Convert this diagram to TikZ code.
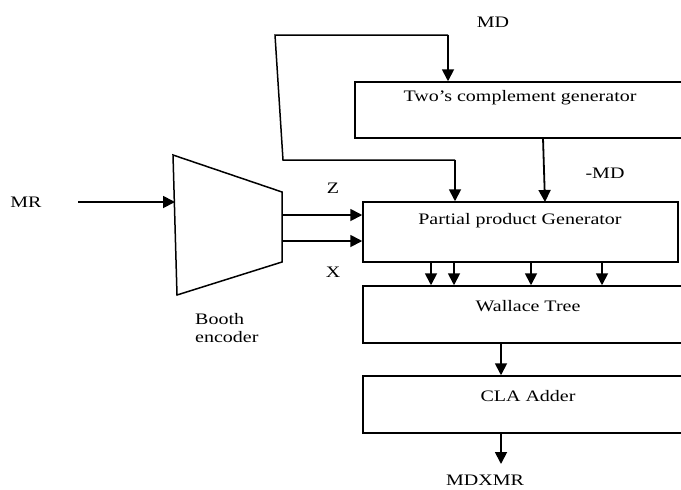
\documentclass[tikz,border=0pt]{standalone}
\usepackage{fontspec}
\setmainfont{Liberation Serif}[FakeStretch=1.25]
\usetikzlibrary{arrows.meta}
\begin{document}
\begin{tikzpicture}[x=1pt,y=-1pt,
  blk/.style={draw, line width=1.5pt, inner sep=0pt},
  lbl/.style={font=\fontsize{16}{18}\selectfont, inner sep=0pt},
  arr/.style={line width=1.8pt, -{Triangle[length=12pt,width=12pt]}},
  ln/.style={line width=1.5pt}]
\useasboundingbox (0,0) rectangle (681,490);
% boxes
\node[blk, minimum width=335pt, minimum height=56pt] (tc) at (522.5,110) {};
\node[lbl] (tct) at (520,98) {Two’s complement generator};
\node[blk, minimum width=315pt, minimum height=60pt] (pp) at (520.5,232) {};
\node[lbl] (ppt) at (520,221) {Partial product Generator};
\node[blk, minimum width=335pt, minimum height=57pt] (wt) at (530.5,314.5) {};
\node[lbl] (wtt) at (528,306) {Wallace Tree};
\node[blk, minimum width=335pt, minimum height=57pt] (cla) at (530.5,404.5) {};
\node[lbl] (clat) at (528,396) {CLA Adder};
% booth encoder trapezoid
\coordinate (btl) at (173,155);
\coordinate (bbl) at (177,295);
\coordinate (btr) at (282,192);
\coordinate (bbr) at (282,262);
\draw[ln] (btl) -- (btr) -- (bbr) -- (bbl) -- cycle;
% labels
\node[lbl] (md) at (493,22) {MD};
\node[lbl] (nmd) at (605,173) {-MD};
\node[lbl] (mr) at (26,202) {MR};
\node[lbl] (z) at (333,188) {Z};
\node[lbl] (x) at (333,272) {X};
\node[lbl, align=left, anchor=north west] (be) at (195,313) {Booth\\encoder};
\node[lbl] (out) at (485,480) {MDXMR};
% connectors
\coordinate (mrs) at (78,202);
\coordinate (mre) at (175,202);
\draw[arr] (mrs) -- (mre);
\coordinate (zs) at (282,215);
\coordinate (xs) at (282,241);
\draw[arr] (zs) -- (zs -| pp.west);
\draw[arr] (xs) -- (xs -| pp.west);
\coordinate (mdt) at (448,35);
\coordinate (lt) at (275,35);
\coordinate (lb) at (283,160);
\coordinate (lr) at (455,160);
\draw[arr] (mdt) -- (mdt |- tc.north);
\draw[ln] (mdt) -- (lt) -- (lb) -- (lr);
\draw[arr] (lr) -- (lr |- pp.north);
\coordinate (ns) at (543,138);
\coordinate (ne) at (545,202);
\draw[arr] (ns) -- (ne);
\foreach \xx/\nm in {431/a,454/b,531/c,602/d}{
  \coordinate (pa\nm) at (\xx,262);
  \draw[arr] (pa\nm) -- (pa\nm |- wt.north);
}
\coordinate (wc) at (501,343);
\draw[arr] (wc) -- (wc |- cla.north);
\coordinate (cc) at (501,433);
\coordinate (ce) at (501,464);
\draw[arr] (cc) -- (ce);
\end{tikzpicture}
\end{document}
